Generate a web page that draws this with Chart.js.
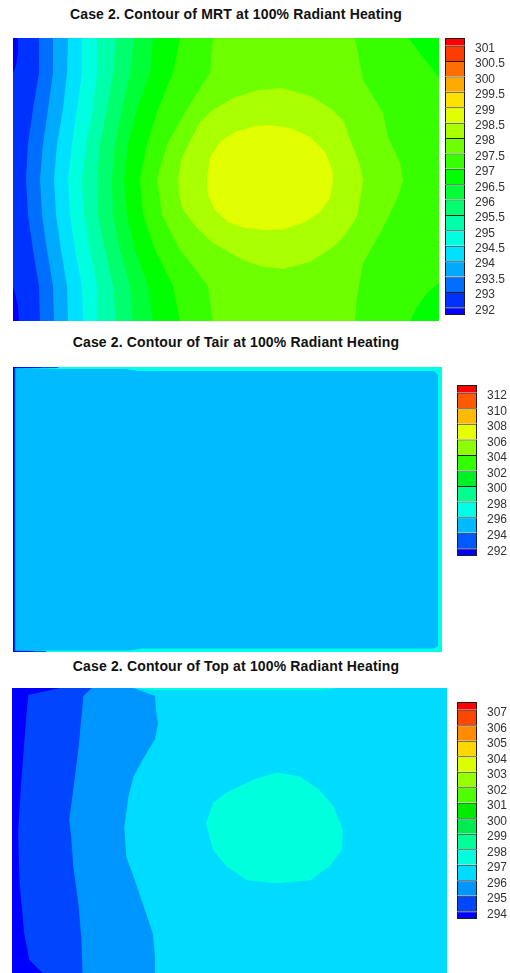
<!DOCTYPE html>
<html>
<head>
<meta charset="utf-8">
<script src="https://cdn.jsdelivr.net/npm/chart.js@4.4.1/dist/chart.umd.min.js"></script>
<style>
  html, body { margin: 0; padding: 0; background: #fff; overflow: hidden; }
  body { width: 510px; height: 973px; position: relative; }
  .title { position: absolute; left: 0; width: 472px; text-align: center; color: #111;
           font: bold 14px "Liberation Sans", Arial, sans-serif; letter-spacing: 0.15px; line-height: 16px; }
  canvas { position: absolute; }
</style>
</head>
<body>
<div class="title" style="top:6px">Case 2. Contour of MRT at 100% Radiant Heating</div>
<canvas id="mrtMap" width="426" height="283" style="left:13px;top:38px"></canvas>
<canvas id="mrtBar" width="65" height="297" style="left:445px;top:28px"></canvas>

<div class="title" style="top:334px">Case 2. Contour of Tair at 100% Radiant Heating</div>
<canvas id="tairMap" width="429" height="285" style="left:13px;top:367px"></canvas>
<canvas id="tairBar" width="53" height="191" style="left:457px;top:375px"></canvas>

<div class="title" style="top:658px">Case 2. Contour of Top at 100% Radiant Heating</div>
<canvas id="topMap" width="435" height="285" style="left:12px;top:688px"></canvas>
<canvas id="topBar" width="53" height="237" style="left:457px;top:692px"></canvas>

<script>
// room plan, cm (x to the right, y up)
const roomW = 426;
const roomH = 283;

// ---------- MRT ----------
const mrtLabels = ['292', '293', '293.5', '294', '294.5', '295', '295.5', '296', '296.5', '297',
                   '297.5', '298', '298.5', '299', '299.5', '300', '300.5', '301'];
const mrtColors = ['#0000ff', '#0032ff', '#006eff', '#00aaff', '#00e1ff', '#00ffe1', '#00ffaa', '#00ff6e',
                   '#00ff37', '#00ff00', '#37ff00', '#6eff00', '#aaff00', '#e1ff00', '#ffe100', '#ffaa00',
                   '#ff6e00', '#ff3c00', '#ff0000'];
const mrtYs = [283, 248, 212, 177, 142, 106, 71, 35, 0]; // rows where the band edges were read
const mrtBandLevel = [3, 4, 5, 6, 7, 8, 9, 10, 11];
const mrtBandX = [
  [26, 26, 20, 15, 13, 15, 20, 26, 27],
  [40, 40, 35, 30, 27, 29, 34, 40, 41],
  [55, 54, 50, 44, 41, 43, 48, 54, 55],
  [69, 69, 64, 59, 55, 57, 62, 69, 70],
  [84, 84, 80, 73, 69, 71, 77, 84, 84],
  [103, 100, 94, 87, 84, 85, 92, 100, 103],
  [121, 117, 109, 102, 99, 100, 107, 117, 120],
  [140, 137, 124, 115, 111, 114, 122, 135, 140],
  [167, 160, 145, 134, 127, 130, 142, 160, 167]
];
const mrtWestX = [200, 197, 174, 154, 144, 149, 167, 195, 200]; // 298 line, left side
const mrtEast = [[342, 283], [350, 241], [370, 208], [375, 184], [387, 158], [390, 141], [385, 124],
                 [369, 91], [350, 58], [344, 24], [342, 0]]; // 298 line, right side
const mrtLowTop = [[0, 283], [5, 283], [5, 268], [3, 255], [0, 248]];
const mrtLowBottom = [[0, 0], [6, 0], [5, 15], [2, 28], [0, 35]];
const mrtCornerTR = [[395, 283], [407, 268], [420, 251], [426, 243], [426, 283]];
const mrtCornerBR = [[426, 38], [414, 28], [404, 14], [397, 0], [426, 0]];
const mrtRing = [[165, 141], [168, 161], [175, 176], [187, 199], [200, 211], [220, 223], [245, 231],
                 [269, 233], [297, 225], [317, 213], [330, 201], [340, 174], [347, 156], [350, 141],
                 [347, 121], [344, 104], [332, 86], [320, 74], [297, 59], [270, 52], [247, 55],
                 [230, 61], [200, 78], [184, 93], [170, 111], [166, 126]];
const mrtCore = [[194, 143], [197, 163], [207, 179], [222, 189], [242, 195], [257, 196], [277, 193],
                 [297, 184], [312, 169], [319, 153], [320, 141], [317, 123], [307, 109], [292, 99],
                 [272, 92], [252, 91], [232, 93], [215, 99], [202, 111], [195, 126]];

// ---------- Tair ----------
const tairLabels = ['292', '294', '296', '298', '300', '302', '304', '306', '308', '310', '312'];
const tairColors = ['#0000ff', '#005aff', '#00bbff', '#00ffe6', '#00ff8c', '#00f028', '#32ff00',
                    '#8cff00', '#e6ff00', '#ffb900', '#ff5a00', '#ff0000'];
const tairCore = [[2, 281], [112, 281], [124, 279], [418, 279], [422, 275], [422, 6],
                  [418, 3.5], [128, 3.5], [116, 1.6], [2, 1.6]];
const tairEdge = [[0, 0], [0, 283], [45, 283], [45, 282], [2.3, 281.6], [2.3, 1.4], [33, 1], [33, 0]];
const tairWall = [[0, 0], [0, 283], [28, 283], [28, 282.4], [1.4, 282], [1.4, 1], [20, 0.7], [20, 0]];

// ---------- Top ----------
const topLabels = ['294', '295', '296', '297', '298', '299', '300', '301', '302', '303', '304', '305', '306', '307'];
const topColors = ['#0000ff', '#0046ff', '#0096ff', '#00dcff', '#00ffdc', '#00ff96', '#00eb50', '#00eb00',
                   '#50ff00', '#96ff00', '#dcff00', '#ffd700', '#ff8c00', '#ff4600', '#ff0000'];
const top296 = [[119, 283], [140, 275], [141, 261], [143, 248], [140, 232], [128, 212], [119, 195],
                [114, 175], [110, 145], [112, 115], [119, 96], [128, 69], [138, 39], [140, 16], [140, 0]];
const top295 = [[78, 283], [70, 275], [68, 255], [65, 222], [60, 182], [56, 152], [58, 135], [60, 106],
                [65, 69], [68, 33], [69, 0]];
const top294 = [[47, 283], [16, 276], [14, 255], [9, 189], [6, 139], [7.5, 89], [12, 39], [17, 13], [30, 0]];
const top297 = [[190, 149], [197, 169], [210, 179], [236, 192], [259, 199], [282, 195], [301, 182],
                [315, 165], [324, 142], [323, 122], [311, 106], [292, 92], [259, 89], [230, 92],
                [210, 106], [197, 122]];
const topCeiling = [[118, 283], [321, 283], [300, 281], [140, 281]];

const fullRoom = [[0, 0], [0, roomH], [roomW, roomH], [roomW, 0]];

function rightOf(line) {
  return line.concat([[roomW, 0], [roomW, roomH]]);
}
function leftOf(line) {
  return [[0, roomH]].concat(line, [[0, 0]]);
}

// MRT patches, painted from the bottom up
const mrtPatches = [{ level: 2, pts: fullRoom }, { level: 1, pts: mrtLowTop }, { level: 1, pts: mrtLowBottom }];
mrtBandX.forEach((xs, i) => {
  mrtPatches.push({ level: mrtBandLevel[i], pts: rightOf(xs.map((x, j) => [x, mrtYs[j]])) });
});
mrtPatches.push({ level: 12, pts: mrtWestX.map((x, j) => [x, mrtYs[j]]).concat(mrtEast.slice().reverse()) });
mrtPatches.push({ level: 10, pts: mrtCornerTR }, { level: 10, pts: mrtCornerBR });
mrtPatches.push({ level: 13, pts: mrtRing }, { level: 14, pts: mrtCore });

const tairPatches = [
  { level: 4, pts: fullRoom },
  { level: 3, pts: tairCore },
  { level: 2, pts: tairEdge },
  { level: 1, pts: tairWall }
];

const topPatches = [
  { level: 4, pts: fullRoom },
  { level: 3, pts: leftOf(top296) },
  { level: 2, pts: leftOf(top295) },
  { level: 1, pts: leftOf(top294) },
  { level: 5, pts: top297 },
  { level: 5, pts: topCeiling }
];

function drawMap(id, colors, patches) {
  new Chart(document.getElementById(id), {
    type: 'scatter',
    data: {
      datasets: patches.map((p, i) => ({
        data: p.pts.map(([x, y]) => ({ x, y })),
        showLine: true,
        fill: 'shape',
        backgroundColor: colors[p.level - 1],
        borderColor: 'rgba(0,0,0,0)',
        borderWidth: 0,
        pointRadius: 0,
        pointHoverRadius: 0,
        tension: 0,
        order: -i // later patches on top
      }))
    },
    options: {
      responsive: false,
      animation: false,
      events: [],
      layout: { padding: 0, autoPadding: false },
      plugins: { legend: { display: false }, tooltip: { enabled: false } },
      scales: {
        x: { type: 'linear', min: 0, max: roomW, display: false },
        y: { type: 'linear', min: 0, max: roomH, display: false }
      }
    }
  });
}

function drawBar(id, labels, colors, axisW) {
  const n = labels.length;
  new Chart(document.getElementById(id), {
    type: 'bar',
    data: {
      labels: [''],
      datasets: colors.map((c, k) => ({
        data: [[Math.max(k - 1, -0.5), Math.min(k, n - 0.5)]],
        backgroundColor: c,
        borderColor: '#1e1e1e',
        borderWidth: { top: 1, left: 1, right: 1, bottom: k === 0 ? 1 : 0 },
        borderSkipped: false,
        inflateAmount: 0,
        grouped: false,
        barPercentage: 1,
        categoryPercentage: 1
      }))
    },
    options: {
      responsive: false,
      animation: false,
      events: [],
      layout: { padding: { top: 10, bottom: 10, left: 0, right: 0 }, autoPadding: false },
      plugins: { legend: { display: false }, tooltip: { enabled: false } },
      scales: {
        x: { display: false },
        y: {
          type: 'linear',
          position: 'right',
          min: -0.5,
          max: n - 0.5,
          grid: { display: false, drawTicks: false },
          border: { display: false },
          afterBuildTicks: s => { s.ticks = labels.map((_, i) => ({ value: i })); },
          afterFit: s => { s.width = axisW; s.paddingTop = 0; s.paddingBottom = 0; },
          ticks: {
            autoSkip: false,
            padding: 10,
            labelOffset: 3,
            color: '#333',
            font: { family: '"Liberation Sans", Arial, sans-serif', size: 12 },
            callback: v => labels[Math.round(v)]
          }
        }
      }
    }
  });
}

drawMap('mrtMap', mrtColors, mrtPatches);
drawBar('mrtBar', mrtLabels, mrtColors, 45);
drawMap('tairMap', tairColors, tairPatches);
drawBar('tairBar', tairLabels, tairColors, 33);
drawMap('topMap', topColors, topPatches);
drawBar('topBar', topLabels, topColors, 33);
</script>
</body>
</html>
